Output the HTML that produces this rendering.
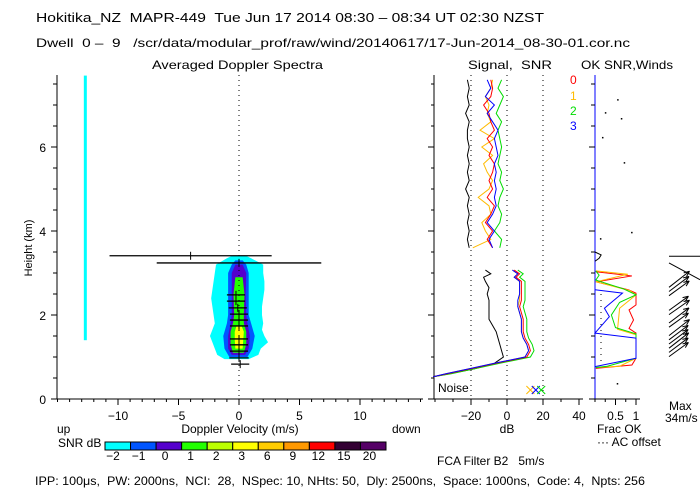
<!DOCTYPE html>
<html><head><meta charset="utf-8"><style>
html,body{margin:0;padding:0;background:#fff;}
svg{display:block;font-family:"Liberation Sans",sans-serif;}
text{font-size:12px;fill:#000;white-space:pre;}
</style></head><body>
<svg id="c" width="700" height="500" viewBox="0 0 700 500" xml:space="preserve">
<text x="36" y="22" textLength="508" lengthAdjust="spacingAndGlyphs" style="font-size:13px">Hokitika_NZ  MAPR-449  Tue Jun 17 2014 08:30 – 08:34 UT 02:30 NZST</text>
<text x="36" y="47" textLength="594" lengthAdjust="spacingAndGlyphs">Dwell  0 –  9   /scr/data/modular_prof/raw/wind/20140617/17-Jun-2014_08-30-01.cor.nc</text>
<text x="152" y="69" textLength="171" lengthAdjust="spacingAndGlyphs">Averaged Doppler Spectra</text>
<text x="468" y="69" textLength="84" lengthAdjust="spacingAndGlyphs">Signal,  SNR</text>
<text x="581" y="69" textLength="92" lengthAdjust="spacingAndGlyphs">OK SNR,Winds</text>
<text transform="translate(32,248) rotate(-90)" text-anchor="middle" style="font-size:11px">Height (km)</text>
<text x="240" y="433" text-anchor="middle">Doppler Velocity (m/s)</text>
<text x="57" y="433">up</text>
<text x="392" y="433">down</text>
<text x="507" y="433" text-anchor="middle">dB</text>
<text x="597" y="433">Frac OK</text>
<text x="597" y="446">··· AC offset</text>
<text x="669" y="410">Max</text>
<text x="665" y="422">34m/s</text>
<text x="437" y="465">FCA Filter B2   5m/s</text>
<text x="58" y="447">SNR dB</text>
<text x="35" y="485" textLength="610" lengthAdjust="spacingAndGlyphs">IPP: 100μs,  PW: 2000ns,  NCI:  28,  NSpec: 10, NHts: 50,  Dly: 2500ns,  Space: 1000ns,  Code: 4,  Npts: 256</text>
<text x="438" y="392">Noise</text>
<text x="570" y="84" style="fill:#f00">0</text>
<text x="570" y="100" style="fill:#fb0">1</text>
<text x="570" y="115" style="fill:#0d0">2</text>
<text x="570" y="130" style="fill:#00f">3</text>
<g id="g"></g>
</svg>
<script>
// ---- data ----
const velTicks = [-10,-5,0,5,10];
const hTicks = [0,2,4,6];
const dbTicks = [-20,0,20,40];
const fracTicks = [0.5,1];
const cbLabels = ["-2","-1","0","1","2","3","6","9","12","15","20"];
const cbColors = ["#00ffff","#0055ff","#5500cc","#22ff00","#bbff00","#ffff00","#ffcc00","#ff9900","#ff0000","#330033","#550066"];
const cyanH = [0.95,1.05,1.2,1.35,1.5,1.65,1.8,2.0,2.2,2.4,2.6,2.8,3.0,3.2,3.35,3.42];
const cyanL = [-1.2,-1.8,-2.0,-2.2,-2.4,-2.2,-2.0,-2.1,-2.2,-2.3,-2.2,-2.1,-2.0,-1.9,-1.0,-0.5];
const cyanR = [0.8,1.6,1.8,2.4,2.1,1.9,2.0,1.9,1.9,2.0,2.1,2.1,2.0,2.0,1.0,0.5];
const blueH = [1.0,1.2,1.5,1.8,2.0,2.5,3.0,3.2,3.3];
const blueL = [-0.8,-1.2,-1.3,-1.0,-0.9,-0.9,-0.9,-0.6,-0.3];
const blueR = [0.7,1.1,1.3,1.0,0.8,0.8,0.8,0.6,0.3];
const purpH = [1.05,1.2,1.5,1.8,2.0,2.5,3.0,3.2];
const purpL = [-0.6,-0.9,-0.9,-0.7,-0.6,-0.6,-0.6,-0.3];
const purpR = [0.5,0.8,0.9,0.7,0.6,0.55,0.6,0.3];
const greenH = [1.1,1.3,1.6,1.8,2.0,2.5,2.9];
const greenL = [-0.5,-0.7,-0.7,-0.5,-0.4,-0.45,-0.3];
const greenR = [0.4,0.6,0.6,0.4,0.4,0.45,0.3];
const yelH = [1.2,1.4,1.6,1.75];
const yelL = [-0.3,-0.35,-0.35,-0.2];
const yelR = [0.3,0.35,0.4,0.2];
const noiseBandVel = -12.7;
const noiseBandTop = 7.7, noiseBandBot = 1.4;
const errH = [3.41,3.24,2.48,2.33,2.17,2.02,1.88,1.74,1.43,1.29,1.14,0.98,0.83];
const errC = [-4.0,0,-0.25,-0.25,-0.1,0,0,0,0,0,0,0,0.1];
const errW = [6.7,6.8,0.75,0.75,0.75,0.75,0.75,0.75,0.75,0.75,0.75,0.8,0.75];
const upH = [3.6,3.8,4.0,4.2,4.4,4.6,4.8,5.0,5.2,5.4,5.6,5.8,6.0,6.2,6.4,6.6,6.8,7.0,7.2,7.4,7.6];
const upBlack = [-21,-22,-21,-22,-21,-22,-21,-23,-21,-22,-21,-22,-21,-22,-22,-21,-23,-21,-22,-21,-22];
const upRed = [-8,-11,-8,-12,-9,-7,-11,-8,-10,-8,-7,-10,-8,-11,-7,-9,-10,-13,-9,-8,-9];
const upOrange = [-19,-9,-12,-14,-9,-10,-16,-10,-8,-11,-13,-8,-14,-7,-15,-9,-11,-10,-12,-9,-8];
const upGreen = [-4,-3,-7,-4,-3,-5,-4,-2,-4,-3,-5,-4,-3,-4,-5,-3,-6,-4,-2,-5,-3];
const upBlue = [-8,-10,-7,-11,-8,-6,-7,-6,-7,-6,-7,-5,-6,-7,-5,-8,-11,-7,-12,-9,-11];
const loH = [3.07,2.98,2.9,2.8,2.65,2.5,2.35,2.2,2.05,1.9,1.75,1.6,1.45,1.3,1.15,1.0,0.85,0.72,0.6,0.53];
const loBlack = [-12,-9,-13,-12,-10,-11,-10,-10,-10,-10,-8,-6,-5,-4,-3,-2,-7,-18,-32,-41];
const loRed = [4,7,5,8,8,8,8,7,8,9,9,9,10,12,13,11,-6,-20,-33,-41];
const loOrange = [3,6,4,7,7,7,7,6,7,8,8,8,9,11,12,10,-7,-21,-34,-41];
const loGreen = [6,9,7,10,10,10,10,9,10,11,11,11,12,14,15,13,-4,-18,-31,-41];
const loBlue = [3,6,4,7,7,7,6,6,7,8,8,8,9,11,12,10,-7,-21,-34,-41];
const redFH = [3.03,2.93,2.79,2.60,2.52,2.24,2.12,1.88,1.68,1.57,1.41,0.97,0.81,0.73];
const redF = [0.02,0.9,0.02,0.82,1.0,1.0,0.83,0.94,0.83,1.0,1.0,1.0,0.9,0.02];
const orgFH = [3.05,2.97,2.79,2.58,2.48,2.16,1.66,1.53,0.97,0.78,0.75];
const orgF = [0.02,0.8,0.02,0.85,1.0,0.6,0.55,1.0,1.0,0.6,0.02];
const grnFH = [3.05,2.95,2.83,2.62,2.48,2.3,2.0,1.7,1.55,0.97,0.78,0.75];
const grnF = [0.02,0.1,0.02,0.7,1.0,0.6,0.4,0.5,1.0,1.0,0.3,0.02];
const bluFH = [2.60,2.52,2.16,1.96,1.57,1.45,0.97,0.77];
const bluF = [0,0.67,0.23,0.35,0,1.0,1.0,0];
const blkFH = [3.5,3.43,3.35,3.28];
const blkF = [0,0.15,0.1,0];
const dotF = [0.54,0.24,0.63,0.17,0.7,0.88,0.12,0.53];
const dotH = [7.14,6.83,6.69,6.24,5.64,3.98,3.83,0.38];
const windH = [2.85,2.75,2.65,2.3,2.2,2.0,1.9,1.7,1.6,1.5,1.4,1.3,1.2];
const windSpd = [26,25,25,24,25,25,24,26,24,24,25,24,24];
const windDir = [38,37,36,36,35,37,36,38,37,37,38,37,36];

// ---- axes ----
const Y = h => 399 - h*42;
const XV = v => 239 + v*12.1;
const XD = d => 507 + d*1.8;
const XF = f => 595 + f*41;
const NS = "http://www.w3.org/2000/svg";
const G = document.getElementById('g');
function mk(tag, at){
  const e = document.createElementNS(NS, tag);
  for (const k in at) e.setAttribute(k, at[k]);
  G.appendChild(e);
  return e;
}
function line(x1,y1,x2,y2,st){return mk('line',{x1,y1,x2,y2,stroke:st||'#000','stroke-width':1});}

function contour(H,L,R,color,name){
  const pts=[];
  for(let i=0;i<H.length;i++) pts.push(XV(L[i])+','+Y(H[i]));
  for(let i=H.length-1;i>=0;i--) pts.push(XV(R[i])+','+Y(H[i]));
  const p = mk('polygon',{points:pts.join(' '),fill:color});
  
  
}
contour(cyanH,cyanL,cyanR,'#00ffff','snr-contour-cyan');
contour(blueH,blueL,blueR,'#0055ff','snr-contour-blue');
contour(purpH,purpL,purpR,'#5500cc','snr-contour-purple');
contour(greenH,greenL,greenR,'#22ff00','snr-contour-green');
contour(yelH,yelL,yelR,'#ffff00','snr-contour-yellow');
const nb = mk('rect',{x:XV(noiseBandVel)-1.5,y:Y(noiseBandTop),width:3,height:Y(noiseBandBot)-Y(noiseBandTop),fill:'#00ffff'});



const zl = mk('line',{x1:XV(0),y1:75,x2:XV(0),y2:399,stroke:'#000','stroke-dasharray':'1,4'});



for(let i=0;i<errH.length;i++){
  const y=Y(errH[i]);
  const b = line(XV(errC[i]-errW[i]),y,XV(errC[i]+errW[i]),y);
  b.setAttribute('stroke-width', 1.3);
  
  
  const t = line(XV(errC[i]),y-4,XV(errC[i]),y+4);
  
  
}

line(57,75,57,399); line(57,399,423,399);
for(let v=-15;v<=15;v++){ line(XV(v),399,XV(v),velTicks.includes(v)?405:402); }
velTicks.forEach(v=>{const t=mk('text',{x:XV(v),y:420,'text-anchor':'middle'}); t.textContent=(v<0?'−':'')+Math.abs(v);
  
  });
for(let h=0;h<=7.5;h+=0.5){ line(hTicks.includes(h)?51:53,Y(h),57,Y(h)); }
hTicks.forEach(h=>{const t=mk('text',{x:46,y:Y(h)+5,'text-anchor':'end'}); t.textContent=h;
  
  });

line(434,75,434,399); line(434,399,583,399);
[-20,0,20].forEach(d=>{const l=mk('line',{x1:XD(d),y1:75,x2:XD(d),y2:399,stroke:'#000','stroke-dasharray':'1,4'});
  
  });
for(let d=-40;d<=40;d+=10){ line(XD(d),399,XD(d),dbTicks.includes(d)?405:402); }
dbTicks.forEach(d=>{const t=mk('text',{x:XD(d),y:420,'text-anchor':'middle'}); t.textContent=(d<0?'−':'')+Math.abs(d);
  
  });
for(let h=0;h<=7.5;h+=0.5){ line(hTicks.includes(h)?428:431,Y(h),434,Y(h)); }
function poly(H,V,xf,color,name){
  const p = mk('polyline',{points:H.map((h,i)=>xf(V[i])+','+Y(h)).join(' '),fill:'none',stroke:color,'stroke-width':1});
  
  
}
poly(upH,upBlack,XD,'#000','signal-upper');
poly(upH,upOrange,XD,'#ffbb00','snr-beam1-upper');
poly(upH,upGreen,XD,'#00dd00','snr-beam2-upper');
poly(upH,upRed,XD,'#ff0000','snr-beam0-upper');
poly(upH,upBlue,XD,'#0000ff','snr-beam3-upper');
poly(loH,loBlack,XD,'#000','signal-lower');
poly(loH,loOrange,XD,'#ffbb00','snr-beam1-lower');
poly(loH,loGreen,XD,'#00dd00','snr-beam2-lower');
poly(loH,loRed,XD,'#ff0000','snr-beam0-lower');
poly(loH,loBlue,XD,'#0000ff','snr-beam3-lower');
[['#ffbb00',13],['#0000ff',16],['#00dd00',19]].forEach(c=>{
  const x=XD(c[1]),y=390;
  const a=line(x-4,y-4,x+4,y+4,c[0]); line(x-4,y+4,x+4,y-4,c[0]);
  
  
});

line(595,75,595,399,'#0000ff');
line(595,399,640,399);
for(let f=0;f<=1.001;f+=0.25){ line(XF(f),399,XF(f),fracTicks.includes(f)?405:402); }
fracTicks.forEach(f=>{const t=mk('text',{x:XF(f),y:420,'text-anchor':'middle'}); t.textContent=f;
  
  });
for(let h=0;h<=7.5;h+=0.5){ line(hTicks.includes(h)?589:591,Y(h),595,Y(h)); }
const ac = mk('line',{x1:601,y1:Y(2.5),x2:601,y2:Y(0.8),stroke:'#000','stroke-dasharray':'1,5'});


poly(blkFH,blkF,XF,'#000','frac-ok-black');
poly(redFH,redF,XF,'#ff0000','frac-ok-beam0');
poly(orgFH,orgF,XF,'#ffbb00','frac-ok-beam1');
poly(grnFH,grnF,XF,'#00dd00','frac-ok-beam2');
poly(bluFH,bluF,XF,'#0000ff','frac-ok-beam3');
for(let i=0;i<dotF.length;i++){
  const d=mk('rect',{x:XF(dotF[i]),y:Y(dotH[i]),width:1.5,height:1.5,fill:'#000'});
  
  
}
const w0=line(669,Y(3.40),700,Y(3.40));


line(669,Y(3.24),700,Y(2.84));
for(let i=0;i<windH.length;i++){
  const a=windDir[i]*Math.PI/180, L=windSpd[i];
  const x1=669,y1=Y(windH[i])+8, x2=x1+L*Math.cos(a), y2=y1-L*Math.sin(a);
  const s=line(x1,y1,x2,y2);
  
  
  line(x2,y2,x2-6*Math.cos(a-0.4),y2+6*Math.sin(a-0.4));
  line(x2,y2,x2-6*Math.cos(a+0.4),y2+6*Math.sin(a+0.4));
}

const cbx=105, cbw=(386-105)/cbColors.length;
for(let i=0;i<cbColors.length;i++){
  const r=mk('rect',{x:cbx+i*cbw,y:442,width:cbw,height:8,fill:cbColors[i],stroke:'#000','stroke-width':1});
  
  
  const t=mk('text',{x:cbx+i*cbw+(i<2?8:9),y:460,'text-anchor':'middle'});
  t.textContent=cbLabels[i].replace('-','−');
  
  
}
</script>
</body></html>
